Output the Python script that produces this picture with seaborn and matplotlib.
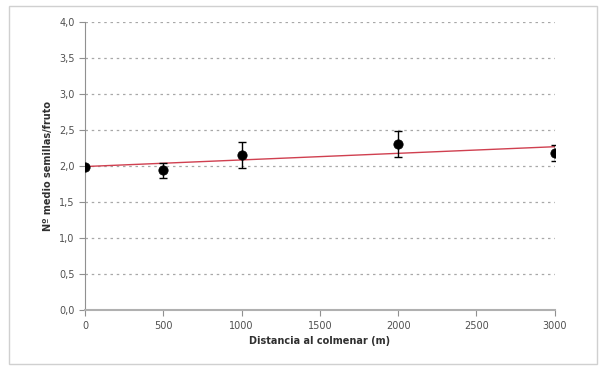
import numpy as np
import pandas as pd
import matplotlib
matplotlib.use("Agg")
import matplotlib.pyplot as plt
import seaborn as sns
from matplotlib.patches import Rectangle

# Datos
distancia = [0, 500, 1000, 2000, 3000]
semillas = [1.99, 1.94, 2.15, 2.30, 2.18]
error = [0.0, 0.10, 0.18, 0.18, 0.11]
y_ticks = [0.0, 0.5, 1.0, 1.5, 2.0, 2.5, 3.0, 3.5, 4.0]
x_ticks = [0, 500, 1000, 1500, 2000, 2500, 3000]

df = pd.DataFrame({"dist": distancia, "sem": semillas, "err": error})

sns.set_style("white")
plt.rcParams['font.family'] = ['DejaVu Sans']

fig = plt.figure(figsize=(6.03, 3.71), dpi=100)
ax = fig.add_axes([0.141, 0.164, 0.779, 0.777])

# borde exterior
fig.patches.append(Rectangle((0.015, 0.02), 0.975, 0.965, transform=fig.transFigure,
                             fill=False, edgecolor='#d0d0d0', linewidth=1))

# línea de tendencia lineal
sns.regplot(x="dist", y="sem", data=df, scatter=False, ci=None, truncate=True,
            line_kws=dict(color='#d04050', linewidth=1), ax=ax)

ax.errorbar(df["dist"], df["sem"], yerr=df["err"], fmt='none', ecolor='black',
            elinewidth=1, capsize=3, capthick=1, zorder=4)
sns.scatterplot(x="dist", y="sem", data=df, color='black', s=45, edgecolor='black',
                ax=ax, zorder=5)

ax.set_xlim(0, 3000)
ax.set_ylim(0, 4)
ax.set_xticks(x_ticks)
ax.set_yticks(y_ticks)
ax.set_yticklabels([f"{v:.1f}".replace('.', ',') for v in y_ticks])
ax.tick_params(axis='both', labelsize=7, colors='#909090', labelcolor='#505050',
               length=4, direction='out', left=True, bottom=True)

for v in y_ticks[1:]:
    ax.axhline(v, color='#a8a8a8', linestyle=(0, (2, 3)), linewidth=0.9, zorder=0)

for s in ['top', 'right']:
    ax.spines[s].set_visible(False)
ax.spines['left'].set_color('#909090')
ax.spines['bottom'].set_color('#b0b0b0')
ax.spines['bottom'].set_linewidth(1.5)

ax.set_xlabel("Distancia al colmenar (m)", fontsize=7, fontweight='bold', color='#303030')
ax.set_ylabel("Nº medio semillas/fruto", fontsize=7, fontweight='bold', color='#303030')

fig.savefig("out.png", dpi=100)
